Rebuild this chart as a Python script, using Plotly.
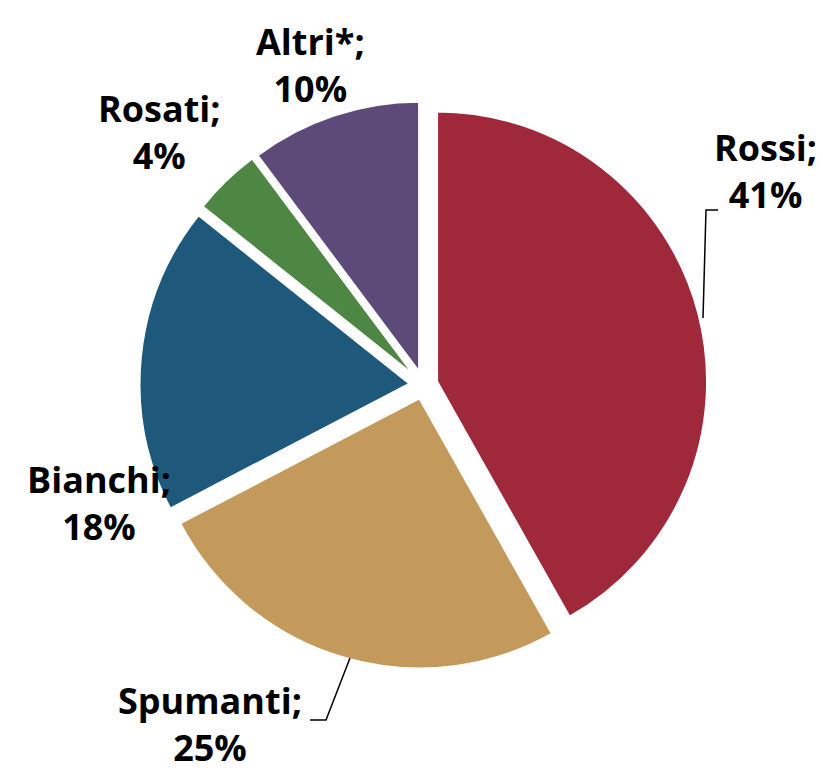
import plotly.graph_objects as go

categories = ["Rossi", "Spumanti", "Bianchi", "Rosati", "Altri*"]
values = [41, 25, 18, 4, 10]
colors = ["#9F293A", "#C39A5B", "#1E587B", "#4E8644", "#5E4A79"]

# label anchor positions (pixels from top-left) for each category's text
label_x = [757, 202, 91, 151, 302]
label_y = [163, 716, 495, 124, 57]

W, H = 823, 771

# pie domain in pixels (left, right, top, bottom)
dl, dr, dt, db = 131.5, 699.5, 92, 662

fig = go.Figure(go.Pie(
    labels=categories,
    values=values,
    sort=False,
    direction="clockwise",
    rotation=0,
    pull=[0.052] * len(values),
    marker=dict(colors=colors, line=dict(color="white", width=2)),
    textinfo="none",
    hoverinfo="label+value",
    showlegend=False,
    domain=dict(x=[dl / W, dr / W], y=[1 - db / H, 1 - dt / H]),
))

for c, v, lx, ly in zip(categories, values, label_x, label_y):
    fig.add_annotation(
        x=lx / W, y=1 - ly / H, xref="paper", yref="paper",
        text=f"{c};<br>{v}%", showarrow=False,
        xanchor="center", yanchor="middle", align="center",
        font=dict(family="Open Sans", size=36, color="#000000", weight=700),
    )

# leader lines
fig.add_shape(type="path", xref="paper", yref="paper",
              path=f"M {695/W} {1-310/H} L {698/W} {1-202/H} L {710/W} {1-202/H}",
              line=dict(color="black", width=1.5))
fig.add_shape(type="path", xref="paper", yref="paper",
              path=f"M {342/W} {1-650/H} L {318/W} {1-712/H} L {302/W} {1-712/H}",
              line=dict(color="black", width=1.5))

fig.update_layout(
    width=W, height=H,
    margin=dict(l=0, r=0, t=0, b=0),
    paper_bgcolor="white", plot_bgcolor="white",
)

fig.write_html("out.html")
